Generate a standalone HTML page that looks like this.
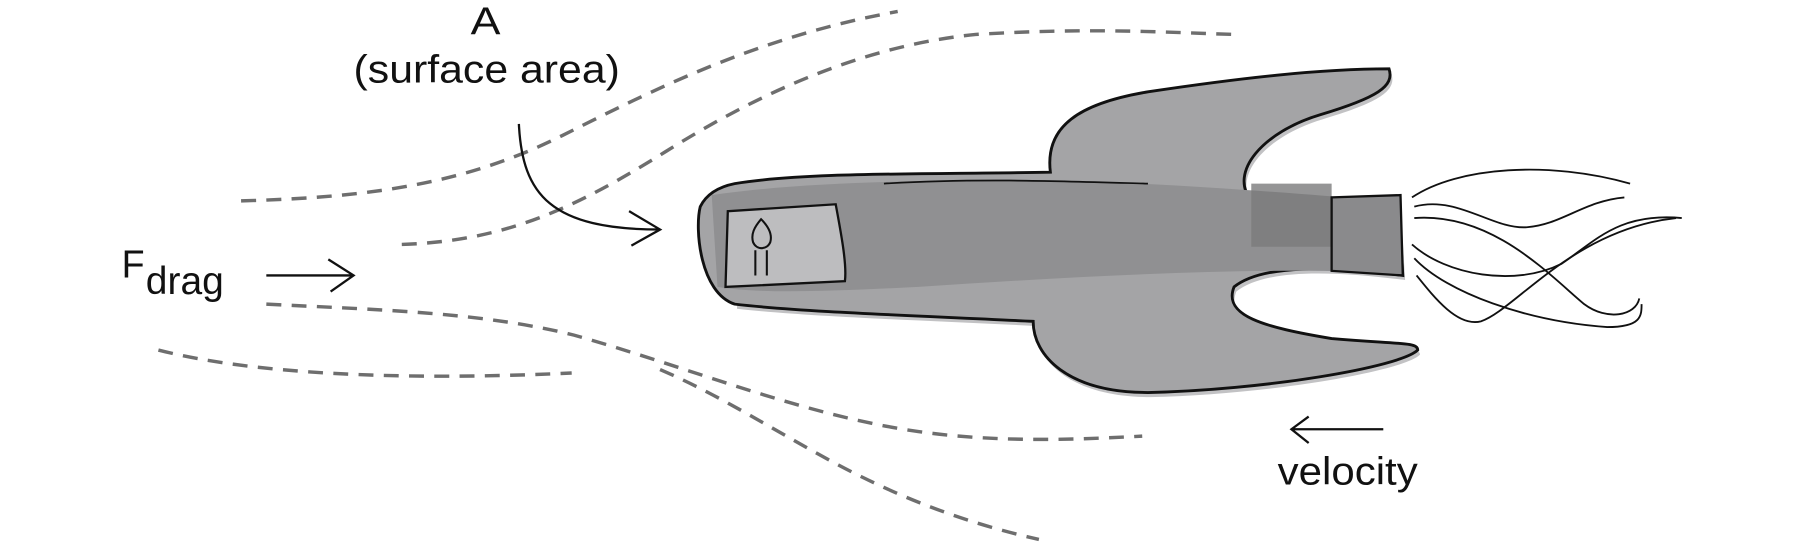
<!DOCTYPE html>
<html><head><meta charset="utf-8"><style>
html,body{margin:0;padding:0;background:#fff;width:1800px;height:544px;overflow:hidden}
svg{display:block}
text{font-family:"Liberation Sans Narrow","Liberation Sans",sans-serif;fill:#111}
</style></head><body>
<svg width="1800" height="544" viewBox="0 0 1568 474" preserveAspectRatio="none">
<g fill="none" stroke="#6e6e6e" stroke-width="3" stroke-dasharray="13 9">
<path d="M210,175 C330,172 410,158 490,118 C570,78 660,32 782,10"/>
<path d="M350,213 C440,210 500,182 580,132 C660,82 750,40 850,30 C950,24 1010,28 1075,30"/>
<path d="M232,265 C330,270 420,272 500,292 C600,320 700,362 800,376 C870,386 940,383 995,380"/>
<path d="M138,305 C220,326 350,332 498,325"/>
<path d="M575,322 C640,350 700,392 760,420 C810,444 860,460 905,470"/>
</g>
<text x="410" y="30" font-size="34" textLength="26" lengthAdjust="spacingAndGlyphs">A</text>
<text x="308" y="72" font-size="34" textLength="232" lengthAdjust="spacingAndGlyphs">(surface area)</text>
<path d="M452,108 C455,170 480,200 575,200 M548,184 L575,200 L550,214" fill="none" stroke="#111" stroke-width="2"/>
<text x="106" y="242" font-size="34" textLength="20" lengthAdjust="spacingAndGlyphs">F</text>
<text x="127" y="256" font-size="34" textLength="68" lengthAdjust="spacingAndGlyphs">drag</text>
<path d="M232,240 L308,240 M286,226 L308,240 L288,254" fill="none" stroke="#111" stroke-width="2"/>
<g>
<path d="M646,164 C700,155 800,156 918,154 C912,114 942,96 1002,84 C1082,72 1152,64 1212,64 C1217,79 1202,89 1152,104 C1102,119 1072,154 1092,179 C1112,189 1162,186 1220,176 L1224,244 C1162,236 1102,234 1077,254 C1067,279 1102,289 1162,299 C1222,304 1237,302 1237,309 C1222,324 1102,344 1002,346 C932,346 902,314 902,284 C802,279 702,276 642,269 Z" fill="#c2c2c4"/>
<path d="M640,160 C700,150 800,152 915,150 C910,110 940,90 1000,80 C1080,68 1150,60 1210,60 C1215,75 1200,85 1150,100 C1100,115 1070,150 1090,175 C1110,185 1160,182 1218,172 L1222,240 C1160,232 1100,230 1075,250 C1065,275 1100,285 1160,295 C1220,300 1235,298 1235,305 C1220,320 1100,340 1000,342 C930,342 900,310 900,280 C800,275 700,272 640,265 C610,255 605,200 610,180 C615,170 625,163 640,160 Z" fill="#a4a4a6" stroke="#111" stroke-width="2.5"/>
<path d="M620,170 C700,158 820,156 950,158 C1050,162 1150,170 1218,176 L1220,238 C1100,232 950,240 800,250 C720,254 660,256 625,250 Z" fill="#909092"/>
<rect x="1090" y="160" width="70" height="55" fill="#7a7a7c" opacity="0.8"/>
<path d="M1160,172 L1220,170 L1222,240 L1160,236 Z" fill="#8a8a8c" stroke="#111" stroke-width="2"/>
<path d="M770,160 C850,155 930,158 1000,160" fill="none" stroke="#111" stroke-width="1.5"/>
<path d="M728,178 C732,200 738,230 736,245 L632,250 L634,184 Z" fill="#bdbdbf" stroke="#111" stroke-width="2"/>
<path d="M663,191 C657,198 654,204 656,211 C659,218 668,218 671,211 C673,204 669,197 663,191 Z M658,218 L658,240 M668,218 L668,240" fill="none" stroke="#111" stroke-width="1.8"/>
</g>
<g fill="none" stroke="#111" stroke-width="1.6">
<path d="M1230,172 C1270,145 1350,140 1420,160"/>
<path d="M1232,180 C1270,170 1300,200 1330,198 C1360,196 1380,175 1415,172"/>
<path d="M1232,190 C1300,185 1350,240 1380,265 C1400,280 1425,275 1428,260"/>
<path d="M1230,213 C1260,240 1320,250 1360,230 C1390,210 1410,185 1465,190"/>
<path d="M1232,225 C1260,255 1330,280 1400,285 C1430,285 1430,275 1430,265"/>
<path d="M1234,240 C1250,260 1270,285 1290,280 C1320,270 1370,200 1460,190"/>
</g>
<path d="M1205,374 L1125,374 M1140,363 L1125,374 L1140,386" fill="none" stroke="#111" stroke-width="2"/>
<text x="1113" y="422" font-size="34" textLength="122" lengthAdjust="spacingAndGlyphs">velocity</text>
</svg>
</body></html>
